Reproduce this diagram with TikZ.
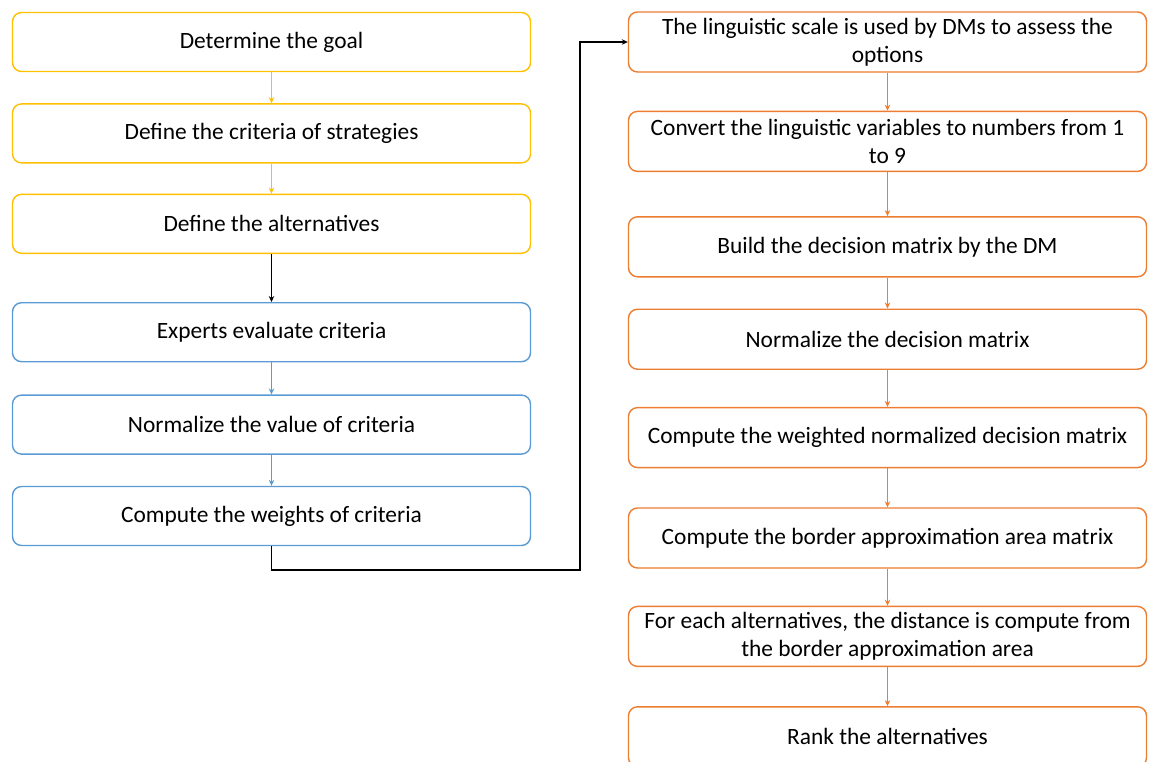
\documentclass[tikz,border=0pt]{standalone}
\usepackage{fontspec}
\setmainfont{Carlito}
\usetikzlibrary{positioning}
\usetikzlibrary{arrows.meta}

\definecolor{goalyellow}{HTML}{FFC000}
\definecolor{critblue}{HTML}{5B9BD5}
\definecolor{rankorange}{HTML}{ED7D31}

\begin{document}
\begin{tikzpicture}[x=1pt,y=1pt,
box/.style={draw,rounded corners=9pt,line width=1.4pt,fill=white,minimum width=518pt,minimum height=59pt,align=center,inner sep=1pt,font=\fontsize{23.4}{28}\selectfont},
tallbox/.style={box,minimum height=60pt},
flow/.style={line width=1.1pt,-{Stealth[length=6pt,width=5.5pt]}}]

\useasboundingbox (0,0) rectangle (1149,-761);

\node[box,draw=goalyellow] (l1) at (271.5,-42) {Determine the goal};
\node[box,draw=goalyellow,below=31pt of l1] (l2) {Define the criteria of strategies};
\node[box,draw=goalyellow,below=30pt of l2] (l3) {Define the alternatives};
\node[box,draw=critblue,below=48pt of l3] (l4) {Experts evaluate criteria};
\node[box,draw=critblue,below=32pt of l4] (l5) {Normalize the value of criteria};
\node[box,draw=critblue,below=31pt of l5] (l6) {Compute the weights of criteria};

\node[tallbox,draw=rankorange] (r1) at (887.5,-42) {The linguistic scale is used by DMs to assess the\\options};
\node[tallbox,draw=rankorange,below=38pt of r1] (r2) {Convert the linguistic variables to numbers from 1\\to 9};
\node[tallbox,draw=rankorange,below=44pt of r2] (r3) {Build the decision matrix by the DM};
\node[tallbox,draw=rankorange,below=31pt of r3] (r4) {Normalize the decision matrix};
\node[tallbox,draw=rankorange,below=37pt of r4] (r5) {Compute the weighted normalized decision matrix};
\node[tallbox,draw=rankorange,below=39pt of r5] (r6) {Compute the border approximation area matrix};
\node[tallbox,draw=rankorange,below=37pt of r6] (r7) {For each alternatives, the distance is compute from\\the border approximation area};
\node[tallbox,draw=rankorange,below=39pt of r7] (r8) {Rank the alternatives};

\foreach \a/\b in {l1/l2,l2/l3}
  \draw[flow,goalyellow] (\a) -- (\b);
\foreach \a/\b in {l4/l5,l5/l6}
  \draw[flow,critblue] (\a) -- (\b);
\foreach \a/\b in {r1/r2,r2/r3,r3/r4,r4/r5,r5/r6,r6/r7,r7/r8}
  \draw[flow,rankorange] (\a) -- (\b);

% link between the two columns
\draw[flow] (l3) -- (l4);
\coordinate (turn) at (580,-570);
\draw[flow] (l6.south) |- (turn) |- (r1.west);
\end{tikzpicture}
\end{document}
